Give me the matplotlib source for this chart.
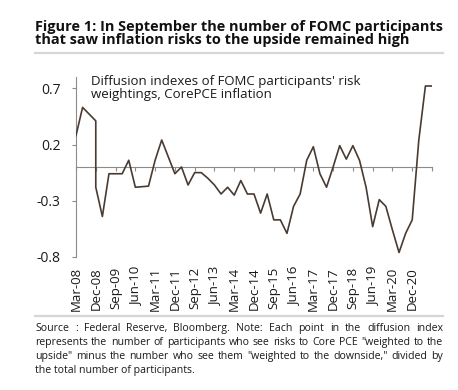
import numpy as np
import matplotlib
matplotlib.use("Agg")
import matplotlib.pyplot as plt
from matplotlib.lines import Line2D
import matplotlib.transforms as mtransforms

plt.rcParams['font.family'] = ['Open Sans', 'DejaVu Sans']

# quarterly diffusion index (Dec-08 appears twice: two releases that quarter)
dates = ['Mar-08', 'Jun-08', 'Sep-08', 'Dec-08', 'Dec-08', 'Mar-09', 'Jun-09', 'Sep-09',
         'Dec-09', 'Mar-10', 'Jun-10', 'Sep-10', 'Dec-10', 'Mar-11', 'Jun-11', 'Sep-11',
         'Dec-11', 'Mar-12', 'Jun-12', 'Sep-12', 'Dec-12', 'Mar-13', 'Jun-13', 'Sep-13',
         'Dec-13', 'Mar-14', 'Jun-14', 'Sep-14', 'Dec-14', 'Mar-15', 'Jun-15', 'Sep-15',
         'Dec-15', 'Mar-16', 'Jun-16', 'Sep-16', 'Dec-16', 'Mar-17', 'Jun-17', 'Sep-17',
         'Dec-17', 'Mar-18', 'Jun-18', 'Sep-18', 'Dec-18', 'Mar-19', 'Jun-19', 'Sep-19',
         'Dec-19', 'Mar-20', 'Jun-20', 'Sep-20', 'Dec-20', 'Mar-21', 'Jun-21', 'Sep-21']
values = [0.28, 0.53, 0.47, 0.41, -0.18, -0.44, -0.06, -0.06,
          -0.06, 0.06, -0.18, -0.175, -0.17, 0.06, 0.24, 0.09,
          -0.06, 0.0, -0.16, -0.05, -0.05, -0.10, -0.16, -0.24,
          -0.18, -0.25, -0.12, -0.24, -0.24, -0.41, -0.24, -0.47,
          -0.47, -0.59, -0.35, -0.24, 0.06, 0.18, -0.06, -0.18,
          0.0, 0.19, 0.07, 0.19, 0.06, -0.18, -0.53, -0.29,
          -0.35, -0.56, -0.76, -0.59, -0.47, 0.24, 0.72, 0.72]
tick_labels = ['Mar-08', 'Dec-08', 'Sep-09', 'Jun-10', 'Mar-11', 'Dec-11', 'Sep-12',
               'Jun-13', 'Mar-14', 'Dec-14', 'Sep-15', 'Jun-16', 'Mar-17', 'Dec-17',
               'Sep-18', 'Jun-19', 'Mar-20', 'Dec-20']
yticks = [-0.8, -0.3, 0.2, 0.7]

title_text = ("Figure 1: In September the number of FOMC participants\n"
              "that saw inflation risks to the upside remained high")
inset_text = "Diffusion indexes of FOMC participants' risk\nweightings, CorePCE inflation"
note_lines = ["Source : Federal Reserve, Bloomberg. Note: Each point in the diffusion index",
              "represents the number of participants who see risks to Core PCE \"weighted to the",
              "upside\" minus the number who see them \"weighted to the downside,\" divided by",
              "the total number of participants."]

months = {'Mar': 0, 'Jun': 1, 'Sep': 2, 'Dec': 3}


def qpos(s):
    m, y = s.split('-')
    return (int(y) - 8) * 4 + months[m]


x = np.array([qpos(d) for d in dates])
y = np.array(values)

W, H = 458, 390
fig = plt.figure(figsize=(W / 100, H / 100), dpi=100)
renderer = fig.canvas.get_renderer()
ax = fig.add_axes([76 / W, 1 - 257 / H, (432 - 76) / W, 180 / H])


def fit(t, target, dim='w'):
    bb = t.get_window_extent(renderer)
    cur = bb.width if dim == 'w' else bb.height
    t.set_fontsize(t.get_fontsize() * target / cur)


def fit_size(s, target, dim='w', **kw):
    t = fig.text(0, 0, s, fontsize=10, **kw)
    fit(t, target, dim)
    size = t.get_fontsize()
    t.remove()
    return size


grey = '#8c8c8c'
txt = '#1a1a1a'
ax.plot(x, y, color='#4a3b32', lw=1.2, zorder=3)
ax.set_xlim(0, 54)
ax.set_ylim(-0.8, 0.8)

ax.spines['top'].set_visible(False)
ax.spines['right'].set_visible(False)
ax.spines['left'].set_color(grey)
ax.spines['bottom'].set_color(grey)
ax.spines['bottom'].set_position(('data', 0))

ysize = fit_size("-0.8", 24)
ax.set_yticks(yticks)
ax.set_yticklabels([f"{t:.1f}" for t in yticks])
ax.tick_params(axis='y', direction='out', length=3, color=grey, pad=11 * 0.72,
               labelsize=ysize, labelcolor=txt)
ax.set_xticks(np.arange(0, 55, 3))
ax.tick_params(axis='x', direction='out', length=3, color=grey, labelbottom=False)

xsize = fit_size("Mar-08", 44, rotation=90, dim='h')
trans = mtransforms.blended_transform_factory(ax.transData, fig.transFigure)
for k, lab in enumerate(tick_labels):
    ax.text(3 * k, 1 - 267 / H, lab, transform=trans, rotation=90, ha='center', va='top',
            fontsize=xsize, color=txt)

# multi-line 'baseline' anchors the last line
inset = fig.text(91 / W, 1 - 98 / H, inset_text, ha='left', va='baseline',
                 color=txt, fontsize=10, linespacing=1.0)
first = fig.text(0, 0, inset_text.split('\n')[0], fontsize=10)
fit(first, 270)
inset.set_fontsize(first.get_fontsize())
first.remove()

title = fig.text(35 / W, 1 - 44 / H, title_text, ha='left', va='baseline',
                 fontweight='bold', color='#111111', fontsize=10, linespacing=0.95)
fit(title, 408)

nsize = fit_size(note_lines[-1], 159)


def justified(lines, x0, x1, ybase, dy, **kw):
    for k, line in enumerate(lines):
        yy = ybase - k * dy
        if k == len(lines) - 1:
            fig.text(x0, yy, line, **kw)
            continue
        words = line.split()
        ts = [fig.text(0, yy, w, **kw) for w in words]
        ws = [t.get_window_extent(renderer).width / fig.bbox.width for t in ts]
        gap = (x1 - x0 - sum(ws)) / (len(words) - 1)
        xx = x0
        for t, w in zip(ts, ws):
            t.set_x(xx)
            xx += w + gap


justified(note_lines, 35 / W, 443 / W, 1 - 331 / H, 14 / H,
          fontsize=nsize, color=txt, va='baseline')

for yy in (52.5, 315.5):
    fig.add_artist(Line2D([35 / W, 443 / W], [1 - yy / H, 1 - yy / H],
                          color='#d6d6d6', lw=1.6))

fig.savefig('out.png', dpi=100)
